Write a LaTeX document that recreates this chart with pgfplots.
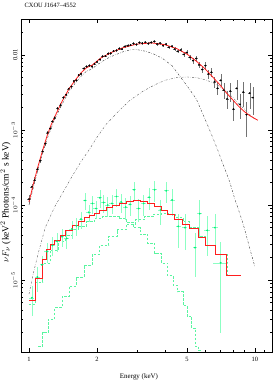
\documentclass[border=0pt]{standalone}
\usepackage{fontspec}
\setmainfont{Liberation Serif}
\usepackage{pgfplots}
\pgfplotsset{compat=1.18}
\definecolor{mred}{RGB}{255,30,30}
\definecolor{gpt}{RGB}{0,240,120}
\definecolor{gerr}{RGB}{140,255,195}
\definecolor{gcomp}{RGB}{90,245,160}
\definecolor{bcomp}{RGB}{50,50,50}
\definecolor{bcompb}{RGB}{90,90,90}
\begin{document}
\begin{tikzpicture}
\useasboundingbox (-21bp,-30bp) rectangle (252bp,352bp);
\begin{axis}[
 at={(0,0)}, anchor=south west,
 scale only axis, width=251bp, height=333bp,
 xmode=log, ymode=log,
 xmin=0.922, xmax=11.9, ymin=1.1e-6, ymax=0.0302,
 xtick={1,2,5,10}, xticklabels={1,2,5,10},
 minor xtick={3,4,6,7,8,9,11},
 ytick={1e-5,1e-4,1e-3,1e-2}, yticklabels={$10^{-5}$,$10^{-4}$,$10^{-3}$,0.01},
 minor ytick={2e-6,3e-6,4e-6,5e-6,6e-6,7e-6,8e-6,9e-6,2e-5,3e-5,4e-5,5e-5,6e-5,7e-5,8e-5,9e-5,2e-4,3e-4,4e-4,5e-4,6e-4,7e-4,8e-4,9e-4,2e-3,3e-3,4e-3,5e-3,6e-3,7e-3,8e-3,9e-3,2e-2,3e-2},
 tick align=inside,
 major tick length=4bp, minor tick length=2bp,
 tick style={black, line width=0.4pt},
 axis line style={line width=0.5pt},
 ticklabel style={font=\fontsize{6.5}{7}\selectfont},
 xticklabel style={yshift=-2bp},
 yticklabel style={rotate=90, anchor=south},
 xlabel={Energy (keV)},
 xlabel style={font=\fontsize{7}{8}\selectfont, at={(axis description cs:0.47,0)}, anchor=north, yshift=-18bp},
 ylabel={$\nu F_\nu$ (keV$^2$ Photons/cm$^2$ s keV)},
 ylabel style={font=\fontsize{9.5}{10}\selectfont, at={(axis description cs:-0.062,0.45)}, anchor=center},
 title={CXOU J1647\textendash4552},
 title style={font=\fontsize{6.5}{7}\selectfont, at={(axis description cs:0,1)}, anchor=south west, yshift=2bp},
 error bars/error mark=none,
]
% ---------- green dataset components ----------
\addplot[const plot, color=gcomp, line width=0.5pt, dash pattern=on 2.5pt off 1.5pt] coordinates {
(1.00,4.8e-6)(1.07,9.5e-6)(1.15,1.7e-5)(1.24,2.5e-5)(1.35,3.3e-5)(1.45,4.0e-5)(1.55,4.7e-5)(1.65,5.3e-5)(1.80,6.0e-5)(1.95,6.6e-5)(2.10,7.0e-5)(2.30,7.0e-5)(2.50,6.6e-5)(2.70,5.9e-5)(2.90,5.0e-5)(3.10,4.1e-5)(3.35,3.1e-5)(3.60,2.3e-5)(3.85,1.7e-5)(4.10,1.15e-5)(4.35,8.5e-6)(4.55,7.0e-6)(4.80,4.6e-6)(5.00,3.3e-6)(5.25,2.3e-6)(5.45,1.3e-6)(5.60,1.15e-6)(5.80,1.15e-6)};
\addplot[const plot, color=gcomp, line width=0.5pt, dash pattern=on 2.5pt off 1.5pt] coordinates {
(1.10,1.3e-6)(1.15,2.0e-6)(1.22,3.0e-6)(1.30,4.3e-6)(1.40,6.0e-6)(1.50,8.3e-6)(1.62,1.1e-5)(1.75,1.6e-5)(1.90,2.2e-5)(2.05,2.9e-5)(2.25,3.8e-5)(2.45,4.7e-5)(2.70,5.6e-5)(2.95,6.4e-5)(3.25,7.1e-5)(3.55,7.6e-5)(3.85,7.8e-5)(4.15,7.5e-5)(4.45,6.9e-5)(4.80,6.1e-5)(5.10,5.0e-5)(5.60,3.8e-5)(6.05,2.95e-5)(6.65,2.2e-5)(7.51,1.17e-5)(8.66,1.17e-5)};
% ---------- green data ----------
\addplot[only marks, mark=*, mark size=0.7pt, color=gpt,
 error bars/.cd, x dir=both, x explicit, y dir=both, y explicit,
 error bar style={color=gerr, line width=0.6pt}] coordinates {
(1.03,5.8e-6) +- (0.025,2.5e-6)
(1.09,1.1e-5) +- (0.03,4e-6)
(1.14,1.6e-5) +- (0.025,5e-6)
(1.20,2.4e-5) +- (0.03,7e-6)
(1.27,2.9e-5) +- (0.035,8e-6)
(1.33,3.3e-5) +- (0.03,9e-6)
(1.40,3.8e-5) +- (0.035,1e-5)
(1.47,3.6e-5) +- (0.035,1e-5)
(1.55,4.8e-5) +- (0.04,1.3e-5)
(1.62,5.3e-5) +- (0.04,1.4e-5)
(1.70,6.5e-5) +- (0.04,1.7e-5)
(1.77,1.15e-4) +- (0.04,3e-5)
(1.84,8.0e-5) +- (0.045,2e-5)
(1.91,1.05e-4) +- (0.045,2.8e-5)
(1.98,9.0e-5) +- (0.05,2.5e-5)
(2.06,1.25e-4) +- (0.05,3.3e-5)
(2.14,1.08e-4) +- (0.05,3e-5)
(2.23,1.0e-4) +- (0.05,3e-5)
(2.33,1.05e-4) +- (0.06,3e-5)
(2.44,1.3e-4) +- (0.06,3.5e-5)
(2.56,1.1e-4) +- (0.06,3.2e-5)
(2.68,9.4e-5) +- (0.06,3e-5)
(2.80,1.02e-4) +- (0.07,3e-5)
(2.92,1.6e-4) +- (0.07,4.5e-5)
(3.06,9.0e-5) +- (0.07,3e-5)
(3.22,1.05e-4) +- (0.08,3.3e-5)
(3.40,1.27e-4) +- (0.08,4e-5)
(3.60,1.6e-4) +- (0.09,5e-5)
(3.82,8.6e-5) +- (0.10,3.2e-5)
(4.05,1.55e-4) +- (0.10,5e-5)
(4.30,1.17e-4) +- (0.11,4.5e-5)
(4.58,5.2e-5) +- (0.12,2.5e-5)
(4.90,5.0e-5) +- (0.13,2.5e-5)
(5.43,2.7e-5) +- (0.12,1.6e-5)
(5.70,7.7e-5) +- (0.16,4e-5)
(6.15,4.6e-5) +- (0.18,2.5e-5)
(6.65,5.0e-5) +- (0.20,2.5e-5)
(7.05,1.7e-5) +- (0.55,1.5e-5)
};
% ---------- green model ----------
\addplot[const plot, color=mred, line width=0.7pt] coordinates {
(1.00,5.4e-6)(1.07,1.05e-5)(1.15,1.9e-5)(1.19,2.6e-5)(1.24,3.0e-5)(1.30,3.4e-5)(1.37,3.9e-5)(1.45,4.6e-5)(1.55,5.3e-5)(1.65,6.0e-5)(1.75,6.8e-5)(1.85,7.3e-5)(1.95,7.8e-5)(2.05,8.4e-5)(2.20,9.2e-5)(2.35,1.0e-4)(2.50,1.07e-4)(2.70,1.12e-4)(2.90,1.15e-4)(3.10,1.13e-4)(3.35,1.05e-4)(3.60,9.6e-5)(3.85,8.6e-5)(4.10,7.6e-5)(4.40,6.5e-5)(4.75,5.6e-5)(5.10,4.9e-5)(5.60,3.7e-5)(6.05,2.9e-5)(6.65,2.2e-5)(7.51,1.17e-5)(8.66,1.17e-5)};
% ---------- black dataset components ----------
\addplot[color=bcomp, line width=0.4pt, dash pattern=on 2pt off 1.5pt on 0.4pt off 1.5pt] coordinates {
(1.00,1.0e-4)(1.05,1.8e-4)(1.10,3.1e-4)(1.15,4.9e-4)(1.20,7.5e-4)(1.30,1.4e-3)(1.40,2.2e-3)(1.50,3.2e-3)(1.60,4.2e-3)(1.70,5.2e-3)(1.80,6.1e-3)(1.90,6.5e-3)(2.00,7.4e-3)(2.20,8.9e-3)(2.40,1.0e-2)(2.60,1.1e-2)(2.80,1.17e-2)(3.00,1.18e-2)(3.30,1.12e-2)(3.60,1.02e-2)(3.90,9.0e-3)(4.30,7.2e-3)(4.70,5.0e-3)(5.10,3.6e-3)(5.50,2.6e-3)(5.80,1.8e-3)(6.15,1.2e-3)(6.50,8.0e-4)(6.85,5.4e-4)(7.40,2.9e-4)(7.75,2.0e-4)(8.15,1.2e-4)(8.60,7.5e-5)(9.00,4.8e-5)(9.50,2.6e-5)(10.0,1.5e-5)};
\addplot[color=bcompb, line width=0.4pt, dash pattern=on 2pt off 1.5pt on 0.4pt off 1.5pt] coordinates {
(1.00,6.5e-6)(1.05,1.3e-5)(1.10,2.3e-5)(1.18,5.0e-5)(1.30,9.5e-5)(1.40,1.4e-4)(1.55,2.4e-4)(1.70,3.8e-4)(1.85,5.5e-4)(2.00,8.0e-4)(2.20,1.2e-3)(2.50,1.8e-3)(2.80,2.5e-3)(3.20,3.3e-3)(3.60,4.0e-3)(4.00,4.6e-3)(4.50,5.0e-3)(5.00,5.1e-3)(5.50,5.0e-3)(6.00,4.7e-3)(6.50,4.3e-3)(7.00,3.8e-3)(7.50,3.2e-3)(8.00,2.7e-3)(8.50,2.2e-3)(9.00,1.9e-3)(9.50,1.6e-3)(10.0,1.4e-3)};
% ---------- black data ----------
\addplot[only marks, mark=*, mark size=0.7pt, color=black,
 error bars/.cd, x dir=both, x explicit, y dir=both, y explicit,
 error bar style={color=black!55, line width=0.5pt}] coordinates {
(1.00,1.20e-4) +- (0.015,1.5e-5)
(1.03,1.75e-4) +- (0.015,1.8e-5)
(1.06,2.15e-4) +- (0.016,2e-5)
(1.09,3.0e-4) +- (0.016,2.5e-5)
(1.12,3.9e-4) +- (0.017,3e-5)
(1.15,5.2e-4) +- (0.017,3.5e-5)
(1.18,6.6e-4) +- (0.018,4e-5)
(1.21,9.2e-4) +- (0.018,5e-5)
(1.24,1.05e-3) +- (0.019,6e-5)
(1.27,1.30e-3) +- (0.019,7e-5)
(1.30,1.45e-3) +- (0.02,8e-5)
(1.34,1.95e-3) +- (0.02,1e-4)
(1.38,2.15e-3) +- (0.02,1.1e-4)
(1.42,2.70e-3) +- (0.02,1.3e-4)
(1.46,2.95e-3) +- (0.02,1.4e-4)
(1.50,3.55e-3) +- (0.02,1.6e-4)
(1.54,3.80e-3) +- (0.02,1.7e-4)
(1.58,4.50e-3) +- (0.02,2e-4)
(1.62,4.60e-3) +- (0.02,2e-4)
(1.66,5.40e-3) +- (0.02,2.3e-4)
(1.70,5.60e-3) +- (0.02,2.4e-4)
(1.75,6.60e-3) +- (0.025,2.8e-4)
(1.80,7.00e-3) +- (0.025,3e-4)
(1.85,7.20e-3) +- (0.025,3e-4)
(1.90,7.00e-3) +- (0.025,3e-4)
(1.95,7.60e-3) +- (0.025,3.2e-4)
(2.00,8.10e-3) +- (0.03,3.4e-4)
(2.06,8.70e-3) +- (0.03,3.6e-4)
(2.12,9.60e-3) +- (0.03,4e-4)
(2.18,9.70e-3) +- (0.03,4e-4)
(2.24,1.04e-2) +- (0.03,4.2e-4)
(2.30,1.05e-2) +- (0.035,4.3e-4)
(2.37,1.13e-2) +- (0.035,4.5e-4)
(2.44,1.15e-2) +- (0.035,4.6e-4)
(2.51,1.22e-2) +- (0.035,4.8e-4)
(2.58,1.20e-2) +- (0.04,4.8e-4)
(2.66,1.30e-2) +- (0.04,5e-4)
(2.74,1.33e-2) +- (0.04,5.2e-4)
(2.82,1.36e-2) +- (0.04,5.4e-4)
(2.90,1.42e-2) +- (0.045,5.6e-4)
(2.99,1.38e-2) +- (0.045,5.6e-4)
(3.08,1.46e-2) +- (0.045,6e-4)
(3.17,1.44e-2) +- (0.05,6e-4)
(3.27,1.48e-2) +- (0.05,6.2e-4)
(3.37,1.42e-2) +- (0.05,6.2e-4)
(3.47,1.47e-2) +- (0.055,6.4e-4)
(3.58,1.52e-2) +- (0.055,6.6e-4)
(3.69,1.40e-2) +- (0.055,6.4e-4)
(3.80,1.44e-2) +- (0.06,6.6e-4)
(3.92,1.33e-2) +- (0.06,6.4e-4)
(4.04,1.40e-2) +- (0.06,6.8e-4)
(4.16,1.27e-2) +- (0.065,6.6e-4)
(4.29,1.31e-2) +- (0.065,7e-4)
(4.42,1.20e-2) +- (0.07,6.8e-4)
(4.56,1.12e-2) +- (0.07,6.8e-4)
(4.70,1.17e-2) +- (0.07,7.4e-4)
(4.85,1.02e-2) +- (0.075,7e-4)
(5.00,1.08e-2) +- (0.075,7.6e-4)
(5.16,9.30e-3) +- (0.08,7.2e-4)
(5.32,8.40e-3) +- (0.08,7e-4)
(5.49,9.00e-3) +- (0.085,8e-4)
(5.66,7.40e-3) +- (0.085,7.4e-4)
(5.84,6.40e-3) +- (0.09,7e-4)
(6.03,7.20e-3) +- (0.09,8.5e-4)
(6.22,5.60e-3) +- (0.095,7.5e-4)
(6.42,5.90e-3) +- (0.1,8.5e-4)
(6.63,4.40e-3) +- (0.1,7.5e-4)
(6.84,3.60e-3) +- (0.1,7e-4)
(7.06,4.60e-3) +- (0.11,9e-4)
(7.29,3.40e-3) +- (0.11,8e-4)
(7.53,2.60e-3) +- (0.12,7e-4)
(7.78,3.30e-3) +- (0.12,9e-4)
(8.04,1.90e-3) +- (0.12,6e-4)
(8.31,3.60e-3) +- (0.13,1.1e-3)
(8.59,2.20e-3) +- (0.13,8e-4)
(8.88,3.20e-3) +- (0.14,1.2e-3)
(9.18,1.60e-3) +- (0.14,8e-4)
(9.49,3.10e-3) +- (0.15,1.2e-3)
(9.80,2.70e-3) +- (0.15,1.1e-3)
};
% ---------- black model ----------
\addplot[color=mred, line width=0.8pt] coordinates {
(1.00,1.1e-4)(1.05,2.0e-4)(1.10,3.4e-4)(1.15,5.4e-4)(1.20,8.2e-4)(1.25,1.15e-3)(1.30,1.5e-3)(1.40,2.4e-3)(1.50,3.5e-3)(1.60,4.6e-3)(1.70,5.8e-3)(1.80,6.8e-3)(1.90,7.3e-3)(2.00,8.3e-3)(2.10,9.3e-3)(2.30,1.07e-2)(2.60,1.25e-2)(3.00,1.40e-2)(3.50,1.45e-2)(4.00,1.37e-2)(4.50,1.22e-2)(5.00,1.03e-2)(5.50,8.3e-3)(6.00,6.6e-3)(6.50,5.1e-3)(7.00,4.0e-3)(7.50,3.1e-3)(8.00,2.5e-3)(8.50,2.05e-3)(9.00,1.75e-3)(9.50,1.55e-3)(10.0,1.42e-3)(10.3,1.35e-3)};
\end{axis}
\end{tikzpicture}
\end{document}
